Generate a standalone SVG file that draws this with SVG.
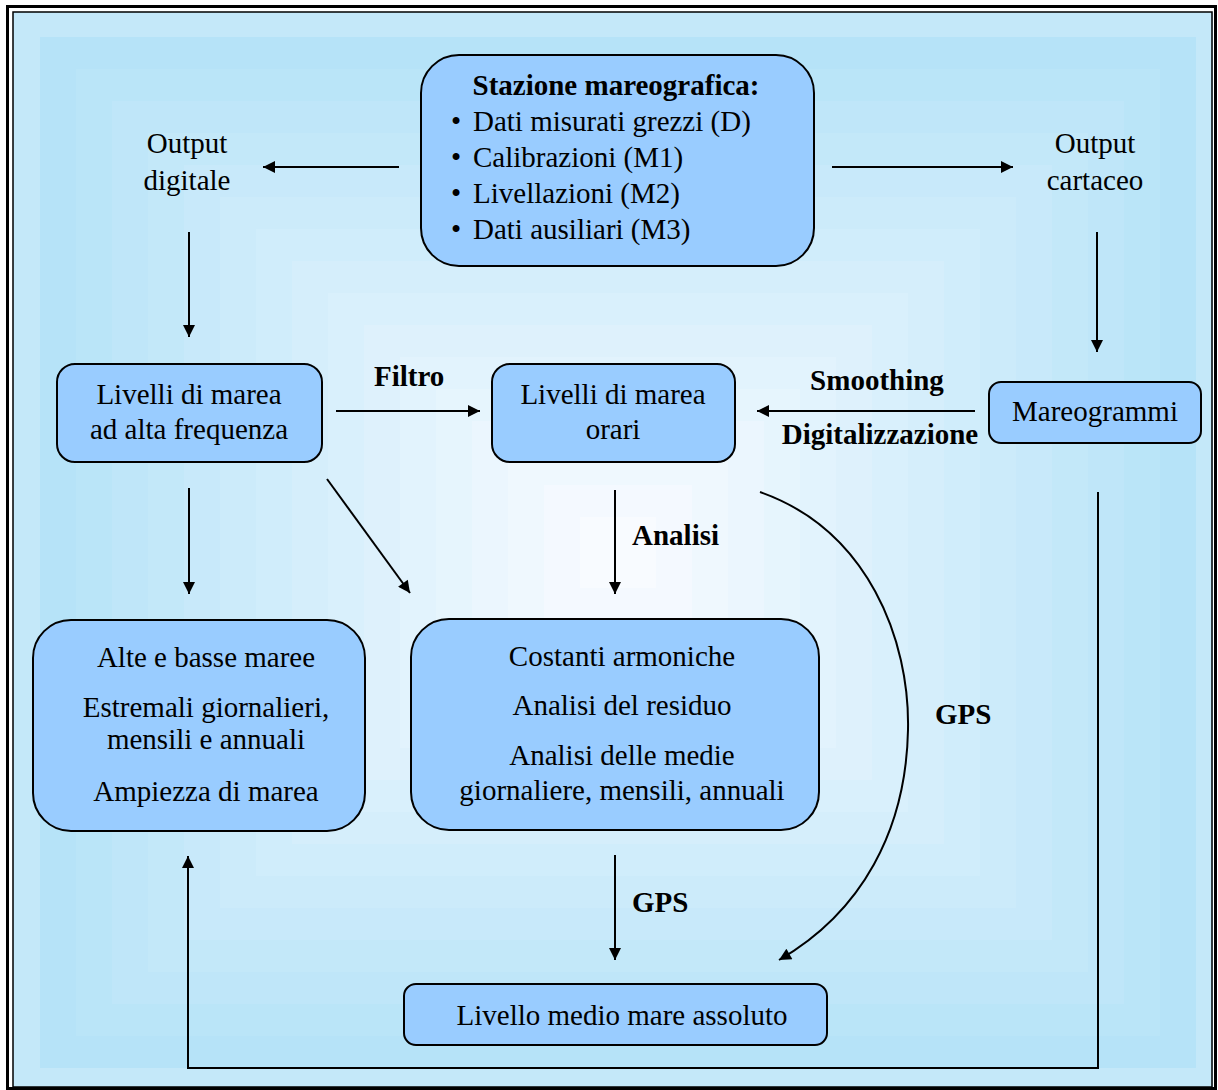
<svg xmlns="http://www.w3.org/2000/svg" width="1218" height="1090" viewBox="0 0 1218 1090">
<style>
text{font-family:"Liberation Serif","Times New Roman",serif;font-size:29px;fill:#000}
.b{font-weight:bold}
.c{text-anchor:middle}
.box{fill:#99ccff;stroke:#000;stroke-width:2}
.ln{fill:none;stroke:#000;stroke-width:2}
</style>
<defs>
<marker id="ah" viewBox="0 0 10 10" refX="10" refY="5" markerWidth="15" markerHeight="12" markerUnits="userSpaceOnUse" orient="auto"><path d="M0,0 L10,5 L0,10 z" fill="#000"/></marker>
</defs>
<g id="background">
<rect x="0" y="0" width="1218" height="1090" fill="#ffffff"/>
<rect x="13" y="12" width="1200" height="1076" fill="#c4e8f9"/>
<rect x="40" y="37" width="1156" height="1031" fill="#b6e3f8"/>
<rect x="76" y="69" width="1084" height="967" fill="#bae5f8"/>
<rect x="112" y="101" width="1012" height="903" fill="#bfe6f9"/>
<rect x="148" y="133" width="940" height="839" fill="#c3e8f9"/>
<rect x="184" y="165" width="868" height="775" fill="#c8e9fa"/>
<rect x="220" y="197" width="796" height="711" fill="#ccebfa"/>
<rect x="256" y="229" width="724" height="647" fill="#d0edfb"/>
<rect x="292" y="261" width="652" height="583" fill="#d5eefb"/>
<rect x="328" y="293" width="580" height="519" fill="#d9f0fc"/>
<rect x="364" y="325" width="508" height="455" fill="#def1fc"/>
<rect x="400" y="357" width="436" height="391" fill="#e2f3fd"/>
<rect x="436" y="389" width="364" height="327" fill="#e6f5fd"/>
<rect x="472" y="421" width="292" height="263" fill="#ebf6fe"/>
<rect x="508" y="453" width="220" height="199" fill="#eff8fe"/>
<rect x="544" y="485" width="148" height="135" fill="#f4f9ff"/>
<rect x="580" y="517" width="76" height="71" fill="#f8fbff"/>
<rect x="7.5" y="6.5" width="1208" height="1082" fill="none" stroke="#000" stroke-width="3"/>
<rect x="13" y="12" width="1199" height="1075" fill="none" stroke="#000" stroke-width="1.5"/>
</g>
<g id="connectors">
<line class="ln" x1="399" y1="167" x2="263" y2="167" marker-end="url(#ah)"/>
<line class="ln" x1="832" y1="167" x2="1013" y2="167" marker-end="url(#ah)"/>
<line class="ln" x1="189" y1="232" x2="189" y2="337" marker-end="url(#ah)"/>
<line class="ln" x1="1097" y1="232" x2="1097" y2="352" marker-end="url(#ah)"/>
<line class="ln" x1="336" y1="411" x2="480" y2="411" marker-end="url(#ah)"/>
<line class="ln" x1="975" y1="411" x2="757" y2="411" marker-end="url(#ah)"/>
<line class="ln" x1="189" y1="488" x2="189" y2="594" marker-end="url(#ah)"/>
<line class="ln" x1="327" y1="479" x2="410" y2="593" marker-end="url(#ah)"/>
<line class="ln" x1="615" y1="490" x2="615" y2="594" marker-end="url(#ah)"/>
<line class="ln" x1="615" y1="855" x2="615" y2="960" marker-end="url(#ah)"/>
<path class="ln" d="M760,492 C868,530 910,640 908,730 C906,830 862,912 779,960" marker-end="url(#ah)"/>
<path class="ln" d="M1098,492 V1068 H188 V856" marker-end="url(#ah)"/>
<text class="b" x="374" y="386">Filtro</text>
<text class="b c" x="877" y="390">Smoothing</text>
<text class="b c" x="880" y="444">Digitalizzazione</text>
<text class="b" x="632" y="545">Analisi</text>
<text class="b" x="632" y="912">GPS</text>
<text class="b" x="935" y="724">GPS</text>
</g>
<g id="stazione">
<rect class="box" x="421" y="55" width="393" height="211" rx="38"/>
<text class="b c" x="616" y="95">Stazione mareografica:</text>
<text x="451" y="131">•<tspan x="473">Dati misurati grezzi (D)</tspan></text>
<text x="451" y="167">•<tspan x="473">Calibrazioni (M1)</tspan></text>
<text x="451" y="203">•<tspan x="473">Livellazioni (M2)</tspan></text>
<text x="451" y="239">•<tspan x="473">Dati ausiliari (M3)</tspan></text>
</g>
<g id="output-digitale">
<text class="c" x="187" y="153">Output</text>
<text class="c" x="187" y="190">digitale</text>
</g>
<g id="output-cartaceo">
<text class="c" x="1095" y="153">Output</text>
<text class="c" x="1095" y="190">cartaceo</text>
</g>
<g id="alta-frequenza">
<rect class="box" x="57" y="364" width="265" height="98" rx="18"/>
<text class="c" x="189" y="404">Livelli di marea</text>
<text class="c" x="189" y="439">ad alta frequenza</text>
</g>
<g id="orari">
<rect class="box" x="492" y="364" width="243" height="98" rx="18"/>
<text class="c" x="613" y="404">Livelli di marea</text>
<text class="c" x="613" y="439">orari</text>
</g>
<g id="mareogrammi">
<rect class="box" x="989" y="382" width="212" height="61" rx="12"/>
<text class="c" x="1095" y="421">Mareogrammi</text>
</g>
<g id="maree">
<rect class="box" x="33" y="620" width="332" height="211" rx="38"/>
<text class="c" x="206" y="667">Alte e basse maree</text>
<text class="c" x="206" y="717">Estremali giornalieri,</text>
<text class="c" x="206" y="749">mensili e annuali</text>
<text class="c" x="206" y="801">Ampiezza di marea</text>
</g>
<g id="costanti">
<rect class="box" x="411" y="619" width="408" height="211" rx="38"/>
<text class="c" x="622" y="666">Costanti armoniche</text>
<text class="c" x="622" y="715">Analisi del residuo</text>
<text class="c" x="622" y="765">Analisi delle medie</text>
<text class="c" x="622" y="800">giornaliere, mensili, annuali</text>
</g>
<g id="livello-medio">
<rect class="box" x="404" y="984" width="423" height="61" rx="12"/>
<text class="c" x="622" y="1025">Livello medio mare assoluto</text>
</g>
</svg>
